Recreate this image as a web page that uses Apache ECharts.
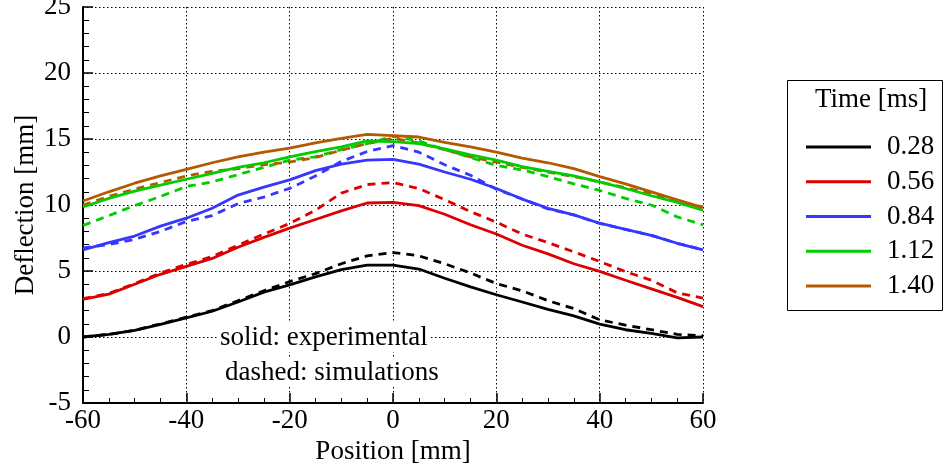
<!DOCTYPE html>
<html>
<head>
<meta charset="utf-8">
<script src="https://cdn.jsdelivr.net/npm/echarts@6/dist/echarts.min.js"></script>
<style>
html,body{margin:0;padding:0;background:#fff;}
#chart{width:943px;height:473px;}
</style>
</head>
<body>
<div id="chart"></div>
<script>
// Positions [mm]
const positions = [-60,-55,-50,-45,-40,-35,-30,-25,-20,-15,-10,-5,0,5,10,15,20,25,30,35,40,45,50,55,60];
// Times [ms] (legend labels)
const times = ['0.28','0.56','0.84','1.12','1.40'];
const colors = ['#000000','#dd0000','#3636ff','#00cc00','#b35a00'];

// Experimental (solid)
const exp028 = [0,0.2,0.5,0.95,1.45,1.95,2.65,3.4,3.95,4.55,5.1,5.45,5.45,5.15,4.45,3.8,3.2,2.65,2.1,1.6,0.98,0.55,0.28,-0.06,0];
const exp056 = [2.85,3.25,4.0,4.75,5.35,5.95,6.8,7.55,8.25,8.9,9.55,10.15,10.2,9.95,9.3,8.5,7.8,6.95,6.3,5.55,4.97,4.3,3.65,3.0,2.3];
const exp084 = [6.6,7.15,7.65,8.4,9.0,9.75,10.75,11.35,11.9,12.6,13.1,13.4,13.45,13.1,12.5,11.95,11.25,10.45,9.75,9.25,8.62,8.15,7.7,7.1,6.6];
const exp112 = [9.85,10.5,11.05,11.5,11.95,12.4,12.85,13.2,13.65,14.05,14.4,14.85,14.8,14.65,14.25,13.8,13.4,12.9,12.55,12.2,11.75,11.25,10.7,10.2,9.6];
const exp140 = [10.3,11.0,11.65,12.2,12.7,13.2,13.65,14.0,14.3,14.7,15.05,15.35,15.25,15.15,14.75,14.4,14.0,13.55,13.2,12.75,12.15,11.6,11.0,10.4,9.8];

// Simulations (dashed)
const sim028 = [0,0.2,0.5,1.0,1.5,2.0,2.75,3.5,4.2,4.8,5.55,6.15,6.4,6.15,5.55,4.85,4.05,3.5,2.75,2.15,1.3,0.9,0.55,0.2,0.1];
const sim056 = [2.9,3.3,4.05,4.85,5.5,6.1,6.95,7.8,8.6,9.6,10.9,11.55,11.7,11.25,10.4,9.5,8.7,7.8,7.15,6.45,5.72,4.95,4.3,3.35,2.95];
const sim084 = [6.75,7.0,7.4,8.0,8.75,9.2,10.1,10.6,11.26,12.2,13.3,14.05,14.5,14.0,13.05,12.25,11.2,10.45,9.7,9.25,8.6,8.15,7.7,7.1,6.6];
const sim112 = [8.45,9.2,9.95,10.65,11.4,11.75,12.3,12.85,13.4,13.65,14.2,14.65,15.2,14.85,14.2,13.6,13.0,12.65,12.15,11.6,11.1,10.5,10.0,9.1,8.5];
const sim140 = [10.0,10.65,11.2,11.7,12.2,12.55,12.75,13.05,13.25,13.6,14.15,14.65,15.05,14.7,14.2,13.65,13.25,12.85,12.5,12.15,11.75,11.3,10.85,10.3,9.85];

const expAll = [exp028, exp056, exp084, exp112, exp140];
const simAll = [sim028, sim056, sim084, sim112, sim140];

const FONT = '"Liberation Serif", "DejaVu Serif", serif';
const FS = 27;
const zip = v => positions.map((x,i) => [x, v[i]]);

const series = [];
times.forEach((t,i) => {
  series.push({
    name: 'sim ' + t, type: 'line', data: zip(simAll[i]), symbol: 'none', showSymbol: false,
    lineStyle: {color: colors[i], width: 2.8, type: [8,6]}, itemStyle:{color: colors[i]}, z: 3
  });
});
times.forEach((t,i) => {
  series.push({
    name: t, type: 'line', data: zip(expAll[i]), symbol: 'none', showSymbol: false,
    lineStyle: {color: colors[i], width: 2.8}, itemStyle:{color: colors[i]}, z: 4
  });
});

const chart = echarts.init(document.getElementById('chart'), null, {renderer: 'canvas'});
chart.setOption({
  animation: false,
  backgroundColor: '#fff',
  grid: {left: 83, right: 240, top: 7, bottom: 70, containLabel: false, outerBoundsMode: 'none'},
  xAxis: {
    type: 'value', min: -60, max: 60, interval: 20,
    name: 'Position [mm]', nameLocation: 'middle', nameGap: 35, nameMoveOverlap: false,
    nameTextStyle: {fontFamily: FONT, fontSize: FS, color: '#000'},
    axisLine: {show: true, onZero: false, lineStyle: {color: '#000', width: 2}},
    axisTick: {show: true, inside: true, length: 10, lineStyle: {color: '#000', width: 1.5}},
    minorTick: {show: true, splitNumber: 4, length: 5, lineStyle: {color: '#000', width: 1}},
    axisLabel: {fontFamily: FONT, fontSize: FS, color: '#000', margin: 4},
    splitLine: {show: true, lineStyle: {color: '#000', width: 1, type: [1.5, 2.5]}}
  },
  yAxis: {
    type: 'value', min: -5, max: 25, interval: 5,
    name: 'Deflection [mm]', nameLocation: 'middle', nameGap: 44, nameRotate: 90, nameMoveOverlap: false,
    nameTextStyle: {fontFamily: FONT, fontSize: FS, color: '#000'},
    axisLine: {show: true, onZero: false, lineStyle: {color: '#000', width: 2}},
    axisTick: {show: true, inside: true, length: 10, lineStyle: {color: '#000', width: 1.5}},
    minorTick: {show: true, splitNumber: 5, length: 6, lineStyle: {color: '#000', width: 1}},
    axisLabel: {fontFamily: FONT, fontSize: FS, color: '#000', margin: 12},
    splitLine: {show: true, lineStyle: {color: '#000', width: 1, type: [1.5, 2.5]}}
  },
  legend: {
    data: times, orient: 'vertical', left: 806, top: 133.5, padding: 0,
    icon: 'rect', itemWidth: 65, itemHeight: 3, itemGap: 7.75,
    textStyle: {fontFamily: FONT, fontSize: FS, color: '#000', lineHeight: 27, padding: [0,0,0,11]},
    selectedMode: false
  },
  graphic: [
    {type: 'rect', left: 787, top: 80, z: 0, shape: {width: 155, height: 230},
     style: {fill: '#fff', stroke: '#000', lineWidth: 1}},
    {type: 'text', left: 815, top: 86, z: 10,
     style: {text: 'Time [ms]', font: FS + 'px ' + FONT, fill: '#000'}},
    {type: 'text', left: 217, top: 323, z: 10,
     style: {text: 'solid: experimental', font: FS + 'px ' + FONT, fill: '#000', backgroundColor: '#fff', padding: [1,3,1,3]}},
    {type: 'text', left: 222, top: 358, z: 10,
     style: {text: 'dashed: simulations', font: FS + 'px ' + FONT, fill: '#000', backgroundColor: '#fff', padding: [1,3,1,3]}}
  ],
  series: series
});
</script>
</body>
</html>
